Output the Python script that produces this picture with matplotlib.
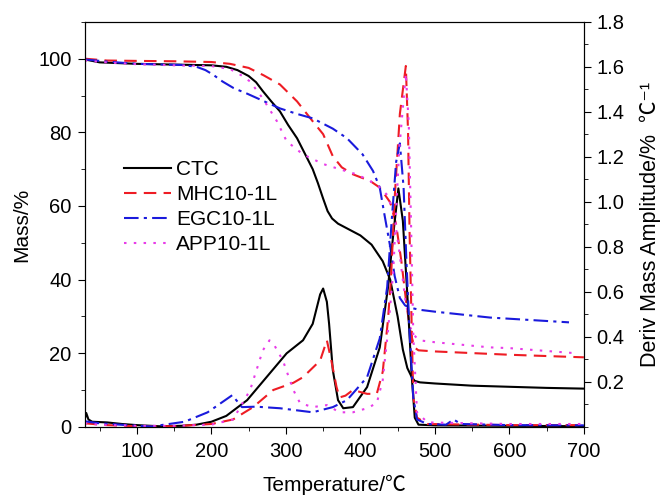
import matplotlib
matplotlib.use('Agg')
import matplotlib.pyplot as plt
from matplotlib.ticker import MultipleLocator

plt.rcParams['font.family'] = ['Liberation Sans', 'Noto Sans CJK SC', 'DejaVu Sans']
plt.rcParams['font.size'] = 15

# ---- TG curves (Mass/%) ----
ctc_tg_t = [30, 50, 100, 150, 200, 220, 235, 250, 260, 269, 280, 292, 303, 315, 325, 336, 343, 350,
            356, 362, 370, 385, 400, 415, 430, 440, 450, 457, 463, 469, 473, 480, 500, 550, 600, 650, 700]
ctc_tg = [99.8, 99.0, 98.6, 98.4, 98.2, 97.8, 96.9, 95.3, 93.6, 91.2, 88.5, 85.7, 82, 78.4, 74.4, 70,
          66.2, 62, 58.6, 56.6, 55.2, 53.6, 52, 49.5, 45, 40, 30, 21, 16, 13.5, 12.5, 12.1, 11.8, 11.2,
          10.9, 10.6, 10.4]

mhc_tg_t = [30, 60, 100, 150, 200, 225, 250, 270, 292, 315, 336, 350, 363, 375, 390, 413, 426,
            440, 448, 455, 462, 468, 473, 478, 500, 600, 700]
mhc_tg = [100, 99.5, 99.4, 99.3, 99.1, 98.6, 97.5, 95.5, 93, 88.4, 83, 79.5, 73.5, 70.5, 68.6, 66.8, 65,
          61, 55, 45, 33, 25, 21.5, 20.8, 20.5, 19.6, 18.9]

egc_tg_t = [30, 60, 100, 160, 180, 192, 202, 215, 230, 248, 270, 292, 315, 336, 363, 382, 403, 417,
            426, 432, 440, 446, 453, 460, 466, 480, 500, 574, 680]
egc_tg = [99.8, 99.2, 98.6, 98.3, 97.8, 96.9, 95.7, 93.8, 92, 90.5, 88.5, 86.5, 85, 83.8, 81, 78.4, 74,
          69.5, 65, 58, 49, 41, 35, 33, 32.4, 31.8, 31.3, 29.7, 28.4]

app_tg_t = [30, 60, 100, 150, 200, 225, 240, 252, 269, 288, 301, 323, 350, 372, 395, 413, 426, 436,
            445, 452, 460, 467, 474, 480, 500, 574, 600, 690]
app_tg = [99.5, 99, 98.5, 98.2, 98, 97.2, 95.5, 93.8, 89.2, 83, 77.6, 74, 71.4, 70, 68.6, 66.8, 65, 63,
          58, 48, 35, 27, 24.5, 23.5, 23, 21.6, 21.4, 20]

# ---- DTG curves (Deriv Mass Amplitude/% C-1) ----
ctc_dtg_t = [30, 32, 35, 40, 60, 80, 100, 130, 160, 180, 200, 220, 248, 274, 301, 323, 336, 346, 350,
             355, 358, 363, 370, 377, 390, 409, 426, 437, 444, 451, 457, 463, 469, 473, 478, 500, 600, 700]
ctc_dtg = [0.033, 0.062, 0.033, 0.023, 0.020, 0.013, 0.008, 0.003, 0.005, 0.010, 0.023, 0.049, 0.119,
           0.221, 0.327, 0.385, 0.458, 0.589, 0.615, 0.556, 0.458, 0.252, 0.119, 0.083, 0.088, 0.177,
           0.353, 0.619, 0.851, 1.060, 0.916, 0.589, 0.221, 0.041, 0.010, 0.007, 0.005, 0.003]

mhc_dtg_t = [30, 60, 100, 150, 200, 229, 256, 283, 310, 323, 346, 355, 361, 368, 372, 380, 390, 409,
             422, 430, 437, 441, 446, 453, 461, 464, 466, 469, 471, 476, 490, 600, 700]
mhc_dtg = [0.016, 0.008, 0.003, 0.003, 0.013, 0.033, 0.088, 0.164, 0.196, 0.221, 0.295, 0.385, 0.295,
           0.177, 0.131, 0.139, 0.164, 0.147, 0.147, 0.245, 0.475, 0.655, 1.015, 1.391, 1.604, 1.309,
           0.867, 0.425, 0.131, 0.041, 0.013, 0.008, 0.008]

egc_dtg_t = [30, 50, 100, 120, 164, 195, 228, 241, 260, 292, 336, 363, 382, 409, 426, 436, 442, 448,
             453, 458, 462, 466, 471, 476, 490, 515, 525, 535, 600, 700]
egc_dtg = [0.025, 0.016, 0.005, 0.002, 0.023, 0.065, 0.141, 0.088, 0.090, 0.083, 0.065, 0.088, 0.119,
           0.221, 0.393, 0.622, 0.916, 1.178, 1.260, 1.064, 0.720, 0.425, 0.131, 0.033, 0.013, 0.010,
           0.033, 0.013, 0.008, 0.007]

app_dtg_t = [30, 50, 100, 150, 200, 229, 252, 269, 278, 285, 296, 310, 319, 336, 355, 372, 390, 409,
             422, 430, 437, 444, 452, 461, 465, 468, 471, 476, 490, 600, 700]
app_dtg = [0.016, 0.010, 0.005, 0.005, 0.010, 0.033, 0.164, 0.340, 0.385, 0.360, 0.295, 0.164, 0.106,
           0.088, 0.097, 0.065, 0.065, 0.083, 0.106, 0.208, 0.425, 0.687, 1.227, 1.571, 1.342, 0.900,
           0.409, 0.065, 0.020, 0.013, 0.013]

labels = ['CTC', 'MHC10-1L', 'EGC10-1L', 'APP10-1L']
colors = ['black', '#ee1c24', '#1a1adc', '#e83ce8']
dashes = [None, (6, 3.5), (7, 2.5, 1.5, 2.5), (1.2, 3.5)]

fig = plt.figure(figsize=(6.62, 4.97), dpi=100)
ax = fig.add_axes([0.128, 0.141, 0.754, 0.815])
ax2 = ax.twinx()

tg = [(ctc_tg_t, ctc_tg), (mhc_tg_t, mhc_tg), (egc_tg_t, egc_tg), (app_tg_t, app_tg)]
dtg = [(ctc_dtg_t, ctc_dtg), (mhc_dtg_t, mhc_dtg), (egc_dtg_t, egc_dtg), (app_dtg_t, app_dtg)]

for i in range(4):
    l1, = ax.plot(tg[i][0], tg[i][1], color=colors[i], lw=1.5, label=labels[i])
    l2, = ax2.plot(dtg[i][0], dtg[i][1], color=colors[i], lw=1.5)
    if dashes[i] is not None:
        l1.set_dashes(dashes[i])
        l2.set_dashes(dashes[i])

ax.set_xlim(30, 700)
ax.set_ylim(0, 110)
ax2.set_ylim(0, 1.8)

ax.xaxis.set_major_locator(MultipleLocator(100))
ax.xaxis.set_minor_locator(MultipleLocator(50))
ax.yaxis.set_major_locator(MultipleLocator(20))
ax.yaxis.set_minor_locator(MultipleLocator(10))
ax2.set_yticks([0.2, 0.4, 0.6, 0.8, 1.0, 1.2, 1.4, 1.6, 1.8])
ax2.yaxis.set_minor_locator(MultipleLocator(0.1))

ax.tick_params(which='both', direction='out', top=False, right=False, labelsize=14.5)
ax.tick_params(which='major', length=5)
ax.tick_params(which='minor', length=3)
ax.tick_params(axis='x', which='major', pad=6)
ax.tick_params(axis='y', which='major', pad=4.5)
ax2.tick_params(which='both', direction='out', labelsize=14.5)
ax2.tick_params(which='major', length=5, pad=4)
ax2.tick_params(which='minor', length=3)

ax.set_xlabel('Temperature/℃', fontsize=15, labelpad=10)
ax.set_ylabel('Mass/%', fontsize=15, labelpad=5)
ax2.set_ylabel('Deriv Mass Amplitude/%  ℃⁻¹', fontsize=15.5, labelpad=11)

ax.legend(loc='upper left', bbox_to_anchor=(0.058, 0.685), frameon=False, fontsize=15,
          handlelength=2.25, handletextpad=0.25, labelspacing=0.29, borderpad=0)

fig.savefig('out.png', dpi=100)
